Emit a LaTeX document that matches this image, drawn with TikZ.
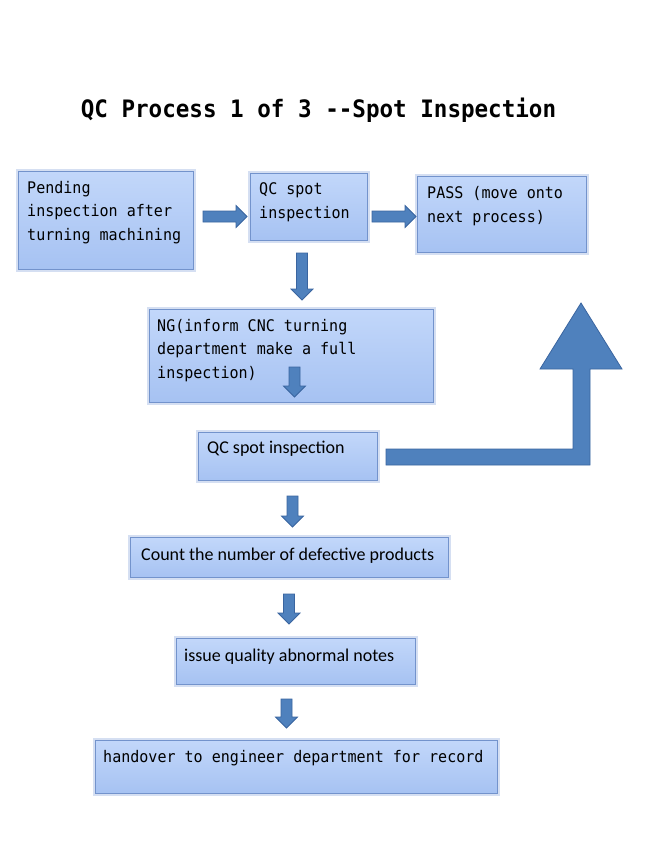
\documentclass[tikz,border=0pt]{standalone}
\usepackage{fontspec}
\newfontfamily\monof[FakeStretch=0.94]{DejaVu Sans Mono}
\newfontfamily\sansf{Carlito}
\definecolor{boxtop}{HTML}{C2D7FA}
\definecolor{boxbot}{HTML}{A6C2F2}
\definecolor{boxline}{HTML}{7393CC}
\definecolor{boxglow}{HTML}{B9CBEA}
\definecolor{arrfill}{HTML}{4F81BD}
\definecolor{arrline}{HTML}{3A65A0}
\tikzset{
  qbox/.style={rectangle, anchor=north west, inner sep=0, top color=boxtop, bottom color=boxbot,
    draw=boxline, line width=1.1pt, preaction={draw=boxglow, line width=5pt, opacity=0.6}},
  monotxt/.style={anchor=base west, inner sep=0, align=left, font=\monof\fontsize{16}{23.5}\selectfont},
  sanstxt/.style={anchor=base west, inner sep=0, font=\sansf\fontsize{18}{22}\selectfont},
  blk/.style={fill=arrfill, draw=arrline, line width=0.8pt, line join=miter},
  pics/darrow/.style={code={\draw[blk] (-5.5,0) -- (5.5,0) -- (5.5,#1-11) -- (11,#1-11) -- (0,#1) -- (-11,#1-11) -- (-5.5,#1-11) -- cycle;}},
  pics/rarrow/.style={code={\draw[blk] (0,-5.5) -- (0,5.5) -- (#1-11,5.5) -- (#1-11,11) -- (#1,0) -- (#1-11,-11) -- (#1-11,-5.5) -- cycle;}}
}
\begin{document}
\begin{tikzpicture}[x=1pt,y=-1pt]
\useasboundingbox[fill=white] (0,0) rectangle (654,859);
% title
\node[anchor=base, inner sep=0, font=\monof\bfseries\fontsize{24}{28}\selectfont] (title) at (318.5,117) {QC Process 1 of 3 --Spot Inspection};
% boxes
\node[qbox, minimum width=175pt, minimum height=98pt] (b1) at (18,171) {};
\node[qbox, minimum width=117pt, minimum height=67pt] (b2) at (250,173) {};
\node[qbox, minimum width=169pt, minimum height=76pt] (b3) at (417,176) {};
\node[qbox, minimum width=284pt, minimum height=93pt] (b4) at (149,309) {};
\node[qbox, minimum width=179pt, minimum height=48pt] (b5) at (198,432) {};
\node[qbox, minimum width=318pt, minimum height=40pt] (b6) at (130,537) {};
\node[qbox, minimum width=239pt, minimum height=46pt] (b7) at (176,638) {};
\node[qbox, minimum width=402pt, minimum height=53pt] (b8) at (95,740) {};
% texts (anchor = baseline of last line)
\node[monotxt] (t1) at (27,240) {Pending\\inspection after\\turning machining};
\node[monotxt] (t2) at (259,218) {QC spot\\inspection};
\node[monotxt] (t3) at (427,222) {PASS (move onto\\next process)};
\node[monotxt] (t4) at (157,378) {NG(inform CNC turning\\department make a full\\inspection)};
\node[sanstxt] (t5) at (207,453) {QC spot inspection};
\node[sanstxt] (t6) at (141,560) {Count the number of defective products};
\node[sanstxt] (t7) at (184,661) {issue quality abnormal notes};
\node[monotxt] (t8) at (103,762) {handover to engineer department for record};
% block arrows
\pic (a1) at (203,216.5) {rarrow=44};
\pic (a2) at (372,216.5) {rarrow=44};
\pic (a3) at (302,253) {darrow=47};
\pic (a4) at (294.5,367) {darrow=30};
\pic (a5) at (292.5,496) {darrow=31};
\pic (a6) at (289,594) {darrow=30};
\pic (a7) at (286.5,699) {darrow=29};
% big bent arrow
\draw[blk] (386,449) -- (573,449) -- (573,369) -- (540,369) -- (581,303) -- (622,369) -- (590,369) -- (590,465) -- (386,465) -- cycle;
\end{tikzpicture}
\end{document}
